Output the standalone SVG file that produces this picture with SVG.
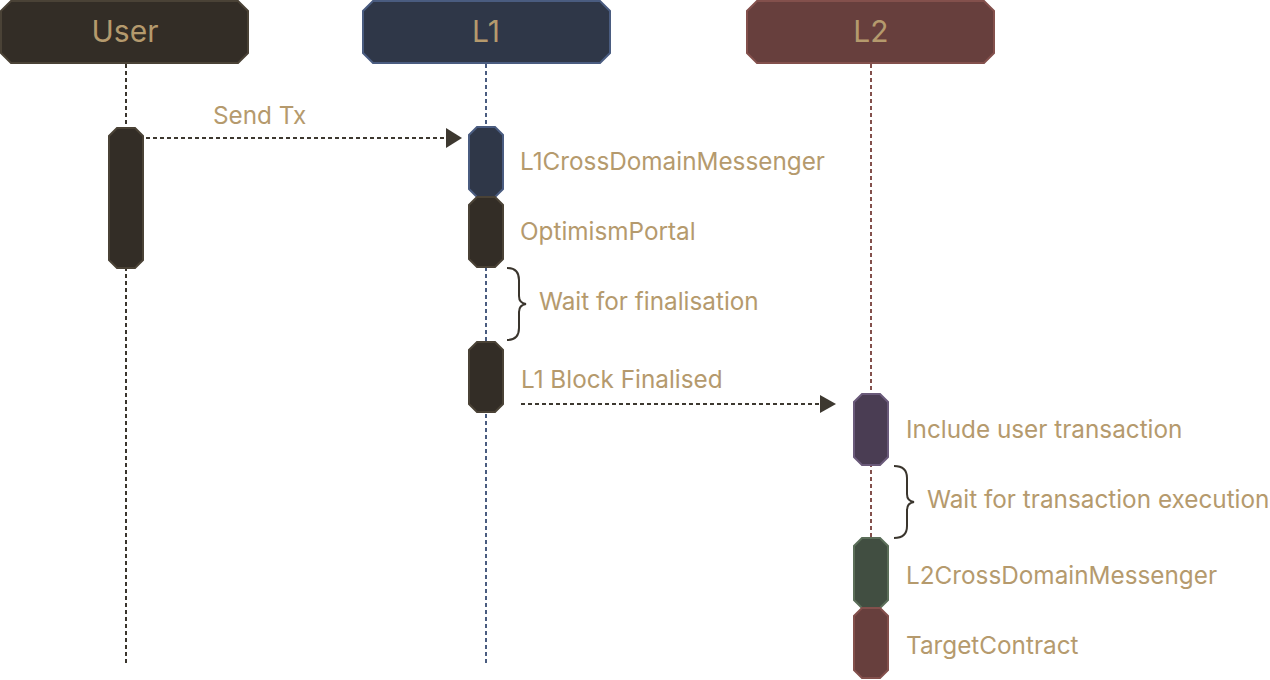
<svg xmlns="http://www.w3.org/2000/svg" width="1270" height="680" viewBox="0 0 1270 680">
<defs>
<style>
text{font-family:Inter,"Liberation Sans",sans-serif;fill:#B59A6D}
.hd{font-size:30px;text-anchor:middle}
.lb{font-size:24.3px}
.life{fill:none;stroke-width:2;stroke-dasharray:4 3}
.msg{fill:none;stroke:#3d3830;stroke-width:2;stroke-dasharray:4 3}
.brace{fill:none;stroke:#3a352d;stroke-width:2}
.ah{fill:#3d3830}
.brown{fill:#332D26;stroke:#4a4236;stroke-width:2}
.blue{fill:#2F3748;stroke:#4a5c80;stroke-width:2}
.red{fill:#673F3D;stroke:#83504c;stroke-width:2}
.purple{fill:#4A3D53;stroke:#6a5a7a;stroke-width:2}
.green{fill:#414E41;stroke:#5b6e59;stroke-width:2}
</style>
</defs>
<rect width="1270" height="680" fill="#ffffff"/>
<g id="lifelines">
<line class="life" x1="126" y1="64" x2="126" y2="664" stroke="#3a352d"/>
<line class="life" x1="486" y1="64" x2="486" y2="664" stroke="#4a5c80"/>
<line class="life" x1="871" y1="64" x2="871" y2="678" stroke="#83504c"/>
</g>
<g id="user">
<polygon class="brown" points="11,1 238,1 248,11 248,53 238,63 11,63 1,53 1,11"/>
<text class="hd" x="125" y="42">User</text>
</g>
<g id="l1">
<polygon class="blue" points="373,1 600,1 610,11 610,53 600,63 373,63 363,53 363,11"/>
<text class="hd" x="486" y="42">L1</text>
</g>
<g id="l2">
<polygon class="red" points="757,1 984,1 994,11 994,53 984,63 757,63 747,53 747,11"/>
<text class="hd" x="871" y="42">L2</text>
</g>
<g id="user-act">
<polygon class="brown" points="117,128 135,128 143,136 143,260 135,268 117,268 109,260 109,136"/>
</g>
<g id="l1-cdm">
<polygon class="blue" points="477,127 495,127 503,135 503,189 495,197 477,197 469,189 469,135"/>
<text class="lb" x="520" y="170">L1CrossDomainMessenger</text>
</g>
<g id="l1-portal">
<polygon class="brown" points="477,197 495,197 503,205 503,259 495,267 477,267 469,259 469,205"/>
<text class="lb" x="520" y="240">OptimismPortal</text>
</g>
<g id="wait-finalisation">
<path class="brace" d="M507,268 Q519,268 519,280 L519,296 Q519,303 526,304 Q519,305 519,312 L519,328 Q519,340 507,340"/>
<text class="lb" x="539" y="310">Wait for finalisation</text>
</g>
<g id="l1-finalised">
<polygon class="brown" points="477,342 495,342 503,350 503,404 495,412 477,412 469,404 469,350"/>
</g>
<g id="l2-include">
<polygon class="purple" points="862,394 880,394 888,402 888,457 880,465 862,465 854,457 854,402"/>
<text class="lb" x="906" y="438">Include user transaction</text>
</g>
<g id="wait-execution">
<path class="brace" d="M894,466 Q907,466 907,478 L907,494 Q907,501 914,502 Q907,503 907,510 L907,526 Q907,538 894,538"/>
<text class="lb" x="927" y="508">Wait for transaction execution</text>
</g>
<g id="l2-cdm">
<polygon class="green" points="862,538 880,538 888,546 888,600 880,608 862,608 854,600 854,546"/>
<text class="lb" x="906" y="584">L2CrossDomainMessenger</text>
</g>
<g id="l2-target">
<polygon class="red" points="862,608 880,608 888,616 888,670 880,678 862,678 854,670 854,616"/>
<text class="lb" x="906" y="654">TargetContract</text>
</g>
<g id="connectors">
<line class="msg" x1="146" y1="138" x2="448" y2="138"/>
<polygon class="ah" points="446,128 462,138 446,148"/>
<text class="lb" x="213" y="124">Send Tx</text>
<line class="msg" x1="521" y1="404" x2="821" y2="404"/>
<polygon class="ah" points="820,395 836,404 820,413"/>
<text class="lb" x="521" y="388">L1 Block Finalised</text>
</g>
</svg>
